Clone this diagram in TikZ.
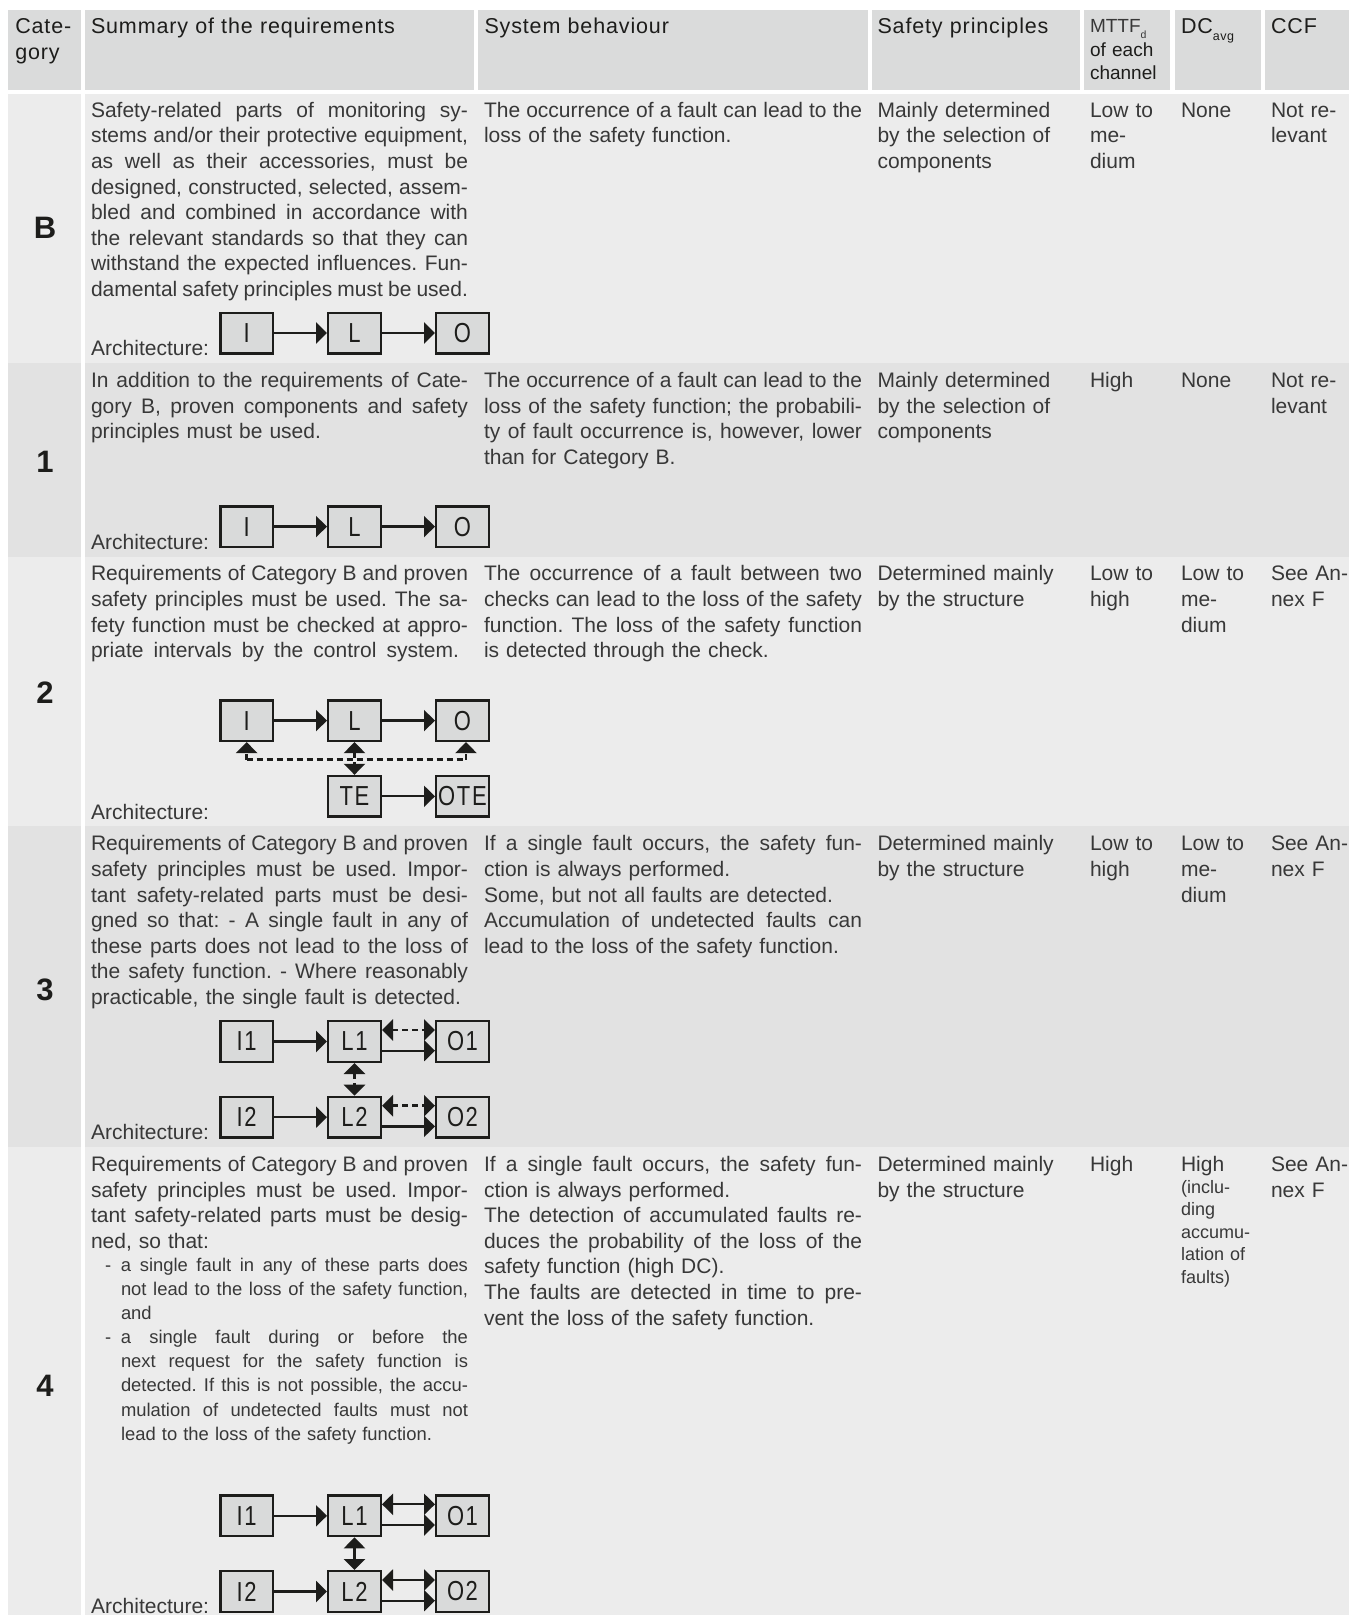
\documentclass[tikz,border=0pt]{standalone}
\usepackage{fontspec}
\setmainfont{Liberation Sans}
\newfontfamily\hdrfont[LetterSpace=4]{Liberation Sans}
\newfontfamily\boxfont[FakeStretch=0.8,LetterSpace=6]{Liberation Sans}
\usetikzlibrary{arrows.meta}
\definecolor{ink}{HTML}{1D1D1B}
\definecolor{txt}{HTML}{383838}
\definecolor{hdrfill}{HTML}{DADBDB}
\definecolor{boxfill}{HTML}{D9DADA}
\definecolor{rowlight}{HTML}{ECECEC}
\definecolor{rowdark}{HTML}{E2E2E2}
\lineskiplimit=-100pt
\newcommand{\wsp}{\frenchspacing\spaceskip=.278em plus 1fil minus .2em\relax}
\newcommand{\J}[1]{\noindent\hbox to \hsize{\wsp\rule{0pt}{18pt}#1}\par}
\newcommand{\F}[1]{\noindent\hbox to \hsize{\rule{0pt}{18pt}#1\hfil}\par}
\newcommand{\W}[2]{\noindent\hbox to \hsize{\hbox to #1{\wsp\rule{0pt}{18pt}#2}\hfil}\par}
\newcommand{\bodyf}{\fontsize{21}{25.6}\selectfont\lineskiplimit=-100pt\relax}
\newcommand{\smallf}{\fontsize{18.4}{24.05}\selectfont\lineskiplimit=-100pt\relax}
\newcommand{\tinyf}{\fontsize{18}{22.4}\selectfont\lineskiplimit=-100pt\relax}
\newcommand{\headf}{\fontsize{21.5}{26}\selectfont\hdrfont\lineskiplimit=-100pt\relax}
\newcommand{\mttff}{\fontsize{19}{23.6}\selectfont\lineskiplimit=-100pt\relax}
\newcommand{\catf}{\fontsize{31}{31}\selectfont\bfseries}
\newcommand{\boxf}{\fontsize{27.5}{27.5}\selectfont\boxfont}
\tikzset{
  x=1pt,y=-1pt,
  para/.style={anchor=north west,inner sep=0pt,outer sep=0pt,text=txt,text width=#1,font=\bodyf},
  head/.style={anchor=north west,inner sep=0pt,outer sep=0pt,text=ink,text width=#1,font=\headf},
  cat/.style={anchor=base,inner sep=0pt,text=ink,font=\catf},
  archlabel/.style={anchor=base west,inner sep=0pt,text=txt,font=\bodyf},
  boxn/.style={draw=ink,fill=boxfill,line width=2.4pt,minimum width=52.6pt,minimum height=40.6pt,inner sep=0pt,text=ink,font=\boxf},
  conn/.style={draw=ink,line width=2.3pt,-{Triangle[length=11pt,width=21pt]}},
  conn2/.style={draw=ink,line width=2.3pt,{Triangle[length=11pt,width=21pt]}-{Triangle[length=11pt,width=21pt]}},
  dsh/.style={dash pattern=on 6pt off 4pt,line width=2.6pt},
  plain/.style={draw=ink,line width=2.6pt}
}
\begin{document}
\begin{tikzpicture}
\useasboundingbox (0,0) rectangle (1349,1615);
% header cells
\fill[hdrfill] (8,10) rectangle (81,90);
\fill[hdrfill] (85,10) rectangle (474,90);
\fill[hdrfill] (478,10) rectangle (868,90);
\fill[hdrfill] (871.5,10) rectangle (1080,90);
\fill[hdrfill] (1084,10) rectangle (1170,90);
\fill[hdrfill] (1175,10) rectangle (1261,90);
\fill[hdrfill] (1265,10) rectangle (1349,90);
% rows
\fill[rowlight] (8,94) rectangle (81,363);   \fill[rowlight] (85,94) rectangle (1349,363);
\fill[rowdark]  (8,363) rectangle (81,556.5); \fill[rowdark]  (85,363) rectangle (1349,556.5);
\fill[rowlight] (8,556.5) rectangle (81,826); \fill[rowlight] (85,556.5) rectangle (1349,826);
\fill[rowdark]  (8,826) rectangle (81,1146.5); \fill[rowdark]  (85,826) rectangle (1349,1146.5);
\fill[rowlight] (8,1146.5) rectangle (81,1615); \fill[rowlight] (85,1146.5) rectangle (1349,1615);
% headers
\node[head=66pt] (hcat) at (15.3,15.3) {\F{Cate-}\F{gory}};
\node[head=380pt] (hsum) at (91,15.3) {\F{Summary of the requirements}};
\node[head=380pt] (hsys) at (484.5,15.3) {\F{System behaviour}};
\node[head=190pt] (hsaf) at (877.5,15.3) {\F{Safety principles}};
\node[head=85pt,font=\mttff] (hmttf) at (1090,14.7)
  {\F{\textcolor{txt}{MTTF}\raisebox{-6pt}{\fontsize{10.5}{10}\selectfont\textcolor{txt}{d}}}\F{of each}\F{channel}};
\node[head=84pt] (hdc) at (1181,15.3) {\F{DC\raisebox{-7pt}{\fontsize{12.5}{12}\selectfont avg}}};
\node[head=75pt] (hccf) at (1271,15.3) {\F{CCF}};
% categories
\node[cat] (cb) at (45,238.5) {B};
\node[cat] (c1) at (45,472.5) {1};
\node[cat] (c2) at (45,703) {2};
\node[cat] (c3) at (45,1000) {3};
\node[cat] (c4) at (45,1396) {4};
% Row B
\node[para=377pt] (rb2) at (91,99.3) {%
\J{Safety-related parts of monitoring sy-}
\J{stems and/or their protective equipment,}
\J{as well as their accessories, must be}
\J{designed, constructed, selected, assem-}
\J{bled and combined in accordance with}
\J{the relevant standards so that they can}
\J{withstand the expected influences. Fun-}
\J{damental safety principles must be used.}};
\node[para=378pt] (rb3) at (484,99.3) {\J{The occurrence of a fault can lead to the}\F{loss of the safety function.}};
\node[para=190pt] (rb4) at (877.5,99.3) {\F{Mainly determined}\F{by the selection of}\F{components}};
\node[para=85pt] (rb5) at (1090,99.3) {\F{Low to}\F{me-}\F{dium}};
\node[para=85pt] (rb6) at (1181,99.3) {\F{None}};
\node[para=76pt] (rb7) at (1271,99.3) {\F{Not re-}\F{levant}};
\node[archlabel] (ab) at (91,355) {Architecture:};
\node[boxn] (bI) at (246.7,333) {I};
\node[boxn] (bL) at (354.5,333) {L};
\node[boxn] (bO) at (462.5,333) {O};
\draw[conn] (bI) -- (bL);
\draw[conn] (bL) -- (bO);
% Row 1
\node[para=377pt] (r12) at (91,369.4) {%
\J{In addition to the requirements of Cate-}
\J{gory B, proven components and safety}
\F{principles must be used.}};
\node[para=378pt] (r13) at (484,369.4) {%
\J{The occurrence of a fault can lead to the}
\J{loss of the safety function; the probabili-}
\J{ty of fault occurrence is, however, lower}
\F{than for Category B.}};
\node[para=190pt] (r14) at (877.5,369.4) {\F{Mainly determined}\F{by the selection of}\F{components}};
\node[para=85pt] (r15) at (1090,369.4) {\F{High}};
\node[para=85pt] (r16) at (1181,369.4) {\F{None}};
\node[para=76pt] (r17) at (1271,369.4) {\F{Not re-}\F{levant}};
\node[archlabel] (a1) at (91,549.6) {Architecture:};
\node[boxn] (oI) at (246.7,526.6) {I};
\node[boxn] (oL) at (354.5,526.6) {L};
\node[boxn] (oO) at (462.5,526.6) {O};
\draw[conn] (oI) -- (oL);
\draw[conn] (oL) -- (oO);
% Row 2
\node[para=377pt] (r22) at (91,562.8) {%
\J{Requirements of Category B and proven}
\J{safety principles must be used. The sa-}
\J{fety function must be checked at appro-}
\W{368pt}{priate intervals by the control system.}};
\node[para=378pt] (r23) at (484,562.8) {%
\J{The occurrence of a fault between two}
\J{checks can lead to the loss of the safety}
\J{function. The loss of the safety function}
\F{is detected through the check.}};
\node[para=190pt] (r24) at (877.5,562.8) {\F{Determined mainly}\F{by the structure}};
\node[para=85pt] (r25) at (1090,562.8) {\F{Low to}\F{high}};
\node[para=85pt] (r26) at (1181,562.8) {\F{Low to}\F{me-}\F{dium}};
\node[para=76pt] (r27) at (1271,562.8) {\F{See An-}\F{nex F}};
\node[archlabel] (a2) at (91,819) {Architecture:};
\node[boxn] (tI) at (246.7,720.6) {I};
\node[boxn] (tL) at (354.5,720.6) {L};
\node[boxn] (tO) at (462.5,720.6) {O};
\node[boxn] (tTE) at (354.5,796.3) {TE};
\node[boxn] (tOTE) at (462.5,796.3) {OTE};
\draw[conn] (tI) -- (tL);
\draw[conn] (tL) -- (tO);
\draw[conn] (tTE) -- (tOTE);
\coordinate (fa) at ([yshift=-17.5pt]tI.south);
\coordinate (fb) at ([xshift=3.5pt,yshift=-17.5pt]tO.south);
\draw[plain,dsh] (fa) -- (fb);
\draw[conn,dsh] (fa) -- (tI.south);
\draw[conn,dsh] (fb) -- ([xshift=3.5pt]tO.south);
\draw[conn2,dsh] (tL) -- (tTE);
% Row 3
\node[para=377pt] (r32) at (91,832.9) {%
\J{Requirements of Category B and proven}
\J{safety principles must be used. Impor-}
\J{tant safety-related parts must be desi-}
\J{gned so that: - A single fault in any of}
\J{these parts does not lead to the loss of}
\J{the safety function. - Where reasonably}
\W{370pt}{practicable, the single fault is detected.}};
\node[para=378pt] (r33) at (484,832.9) {%
\J{If a single fault occurs, the safety fun-}
\F{ction is always performed.}
\F{Some, but not all faults are detected.}
\J{Accumulation of undetected faults can}
\F{lead to the loss of the safety function.}};
\node[para=190pt] (r34) at (877.5,832.9) {\F{Determined mainly}\F{by the structure}};
\node[para=85pt] (r35) at (1090,832.9) {\F{Low to}\F{high}};
\node[para=85pt] (r36) at (1181,832.9) {\F{Low to}\F{me-}\F{dium}};
\node[para=76pt] (r37) at (1271,832.9) {\F{See An-}\F{nex F}};
\node[archlabel] (a3) at (91,1139) {Architecture:};
\node[boxn] (uI1) at (246.7,1041.5) {I1};
\node[boxn] (uL1) at (354.5,1041.5) {L1};
\node[boxn] (uO1) at (462.5,1041.5) {O1};
\node[boxn] (uI2) at (246.7,1117.2) {I2};
\node[boxn] (uL2) at (354.5,1117.2) {L2};
\node[boxn] (uO2) at (462.5,1117.2) {O2};
\draw[conn] (uI1) -- (uL1);
\draw[conn] (uI2) -- (uL2);
\draw[conn] ([yshift=-9.2pt]uL1.east) -- ([yshift=-9.2pt]uO1.west);
\draw[conn] ([yshift=-9.2pt]uL2.east) -- ([yshift=-9.2pt]uO2.west);
\draw[conn2,dsh] ([yshift=11.5pt]uL1.east) -- ([yshift=11.5pt]uO1.west);
\draw[conn2,dsh] ([yshift=11.5pt]uL2.east) -- ([yshift=11.5pt]uO2.west);
\draw[conn2,dsh] (uL1) -- (uL2);
% Row 4
\node[para=377pt] (r42a) at (91,1153.4) {%
\J{Requirements of Category B and proven}
\J{safety principles must be used. Impor-}
\J{tant safety-related parts must be desig-}
\F{ned, so that:}};
\node[para=363pt,font=\smallf] (r42b) at (105,1253.7) {%
\J{\makebox[16pt][l]{-}a single fault in any of these parts does}
\J{\kern16pt not lead to the loss of the safety function,}
\F{\kern16pt and}
\J{\makebox[16pt][l]{-}a single fault during or before the}
\J{\kern16pt next request for the safety function is}
\J{\kern16pt detected. If this is not possible, the accu-}
\J{\kern16pt mulation of undetected faults must not}
\F{\kern16pt lead to the loss of the safety function.}};
\node[para=378pt] (r43) at (484,1153.4) {%
\J{If a single fault occurs, the safety fun-}
\F{ction is always performed.}
\J{The detection of accumulated faults re-}
\J{duces the probability of the loss of the}
\F{safety function (high DC).}
\J{The faults are detected in time to pre-}
\F{vent the loss of the safety function.}};
\node[para=190pt] (r44) at (877.5,1153.4) {\F{Determined mainly}\F{by the structure}};
\node[para=85pt] (r45) at (1090,1153.4) {\F{High}};
\node[para=85pt] (r46a) at (1181,1153.4) {\F{High}};
\node[para=85pt,font=\tinyf] (r46b) at (1181,1175.5) {\F{(inclu-}\F{ding}\F{accumu-}\F{lation of}\F{faults)}};
\node[para=76pt] (r47) at (1271,1153.4) {\F{See An-}\F{nex F}};
\node[archlabel] (a4) at (91,1613) {Architecture:};
\node[boxn] (vI1) at (246.7,1515.8) {I1};
\node[boxn] (vL1) at (354.5,1515.8) {L1};
\node[boxn] (vO1) at (462.5,1515.8) {O1};
\node[boxn] (vI2) at (246.7,1591.5) {I2};
\node[boxn] (vL2) at (354.5,1591.5) {L2};
\node[boxn] (vO2) at (462.5,1591.5) {O2};
\draw[conn] (vI1) -- (vL1);
\draw[conn] (vI2) -- (vL2);
\draw[conn] ([yshift=-9.2pt]vL1.east) -- ([yshift=-9.2pt]vO1.west);
\draw[conn] ([yshift=-9.2pt]vL2.east) -- ([yshift=-9.2pt]vO2.west);
\draw[conn2] ([yshift=11.5pt]vL1.east) -- ([yshift=11.5pt]vO1.west);
\draw[conn2] ([yshift=11.5pt]vL2.east) -- ([yshift=11.5pt]vO2.west);
\draw[conn2] (vL1) -- (vL2);
\end{tikzpicture}
\end{document}
